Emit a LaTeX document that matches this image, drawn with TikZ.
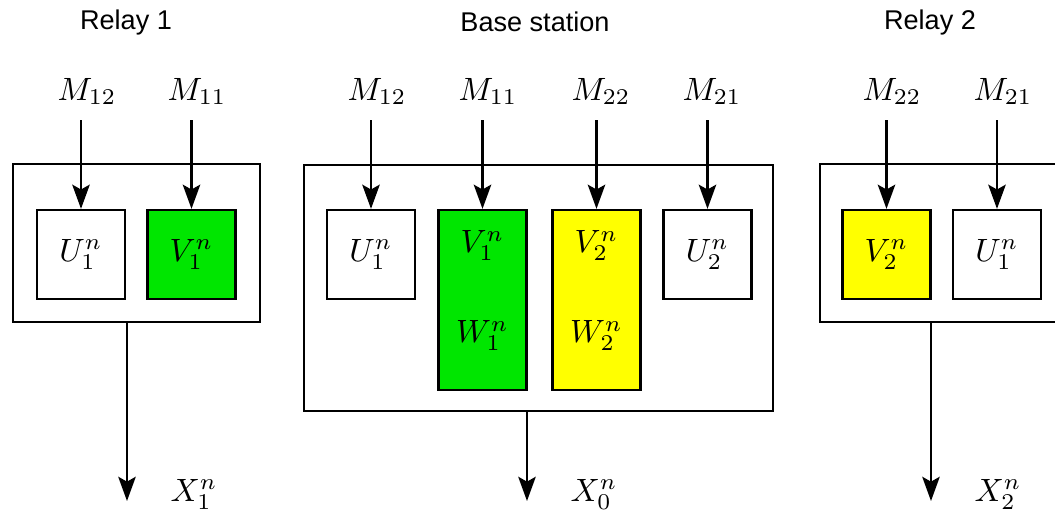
\documentclass[tikz,border=0pt]{standalone}
\usepackage{fontspec}
\usepackage{tikz}
\usetikzlibrary{arrows.meta, positioning, calc}
\newfontfamily\titlefont{Liberation Sans}
\definecolor{cellgreen}{RGB}{0,230,0}
\definecolor{cellyellow}{RGB}{255,255,0}
\newcommand{\pxu}{0.31pt}

\begin{document}
\begin{tikzpicture}[
  x=0.31pt, y=-0.31pt,
  outer/.style={draw, line width=0.7pt, inner sep=0pt},
  cell/.style={draw, line width=0.7pt, inner sep=0pt,
               minimum width=88*\pxu, minimum height=89*\pxu},
  tallcell/.style={cell, minimum height=180*\pxu},
  title/.style={font=\titlefont\fontsize{8.4}{10}\selectfont},
  msg/.style={anchor=base, inner sep=1pt},
  arrow/.style={-{Stealth[length=7.5pt, width=5.4pt, inset=1.5pt]}, line width=0.75pt},
  inarrow/.style={arrow, shorten <=3.5pt}
]
  \clip (0,0) rectangle (1055,512);

  % titles
  \node[title] (relayAtitle) at (126,22) {Relay 1};
  \node[title] (basetitle)   at (535,22) {Base station};
  \node[title] (relayBtitle) at (930,22) {Relay 2};

  % relay 1
  \node[outer, minimum width=247*\pxu, minimum height=158*\pxu] (relayA) at (136.5,243) {};
  \node[cell] (uA) at (81,254.5) {$U_1^n$};
  \node[cell, fill=cellgreen] (vA) at (191.5,254.5) {$V_1^n$};
  \node[msg] (mA12) at (87,100) {$M_{12}$};
  \node[msg] (mA11) at (197,100) {$M_{11}$};
  \draw[inarrow] (mA12.south -| uA.north) -- (uA.north);
  \draw[inarrow] (mA11.south -| vA.north) -- (vA.north);

  % base station
  \node[outer, minimum width=469*\pxu, minimum height=246*\pxu] (base) at (538.5,288) {};
  \node[cell] (uB1) at (371,254.5) {$U_1^n$};
  \node[tallcell, fill=cellgreen] (vwB1) at (482.5,300) {};
  \node[tallcell, fill=cellyellow] (vwB2) at (596.5,300) {};
  \node[cell] (uB2) at (707.5,254.5) {$U_2^n$};
  \node (vB1) at ($(vwB1.north)+(0,37)$) {$V_1^n$};
  \node (wB1) at ($(vwB1.north)+(0,127)$) {$W_1^n$};
  \node (vB2) at ($(vwB2.north)+(0,37)$) {$V_2^n$};
  \node (wB2) at ($(vwB2.north)+(0,127)$) {$W_2^n$};
  \node[msg] (mB12) at (377,100) {$M_{12}$};
  \node[msg] (mB11) at (488,100) {$M_{11}$};
  \node[msg] (mB22) at (601,100) {$M_{22}$};
  \node[msg] (mB21) at (712,100) {$M_{21}$};
  \draw[inarrow] (mB12.south -| uB1.north) -- (uB1.north);
  \draw[inarrow] (mB11.south -| vwB1.north) -- (vwB1.north);
  \draw[inarrow] (mB22.south -| vwB2.north) -- (vwB2.north);
  \draw[inarrow] (mB21.south -| uB2.north) -- (uB2.north);

  % relay 2
  \node[outer, minimum width=247*\pxu, minimum height=158*\pxu] (relayB) at (943.5,243) {};
  \node[cell, fill=cellyellow] (vC) at (886.5,254.5) {$V_2^n$};
  \node[cell] (uC) at (997,254.5) {$U_1^n$};
  \node[msg] (mC22) at (892,100) {$M_{22}$};
  \node[msg] (mC21) at (1003,100) {$M_{21}$};
  \draw[inarrow] (mC22.south -| vC.north) -- (vC.north);
  \draw[inarrow] (mC21.south -| uC.north) -- (uC.north);

  % outputs
  \coordinate (xAend) at (127,501);
  \coordinate (xBend) at (527,501);
  \coordinate (xCend) at (931,501);
  \draw[arrow] (xAend |- relayA.south) -- (xAend);
  \draw[arrow] (xBend |- base.south) -- (xBend);
  \draw[arrow] (xCend |- relayB.south) -- (xCend);
  \node[right=10pt of xAend, yshift=2pt] (xA) {$X_1^n$};
  \node[right=10pt of xBend, yshift=2pt] (xB) {$X_0^n$};
  \node[right=10pt of xCend, yshift=2pt] (xC) {$X_2^n$};
\end{tikzpicture}
\end{document}
